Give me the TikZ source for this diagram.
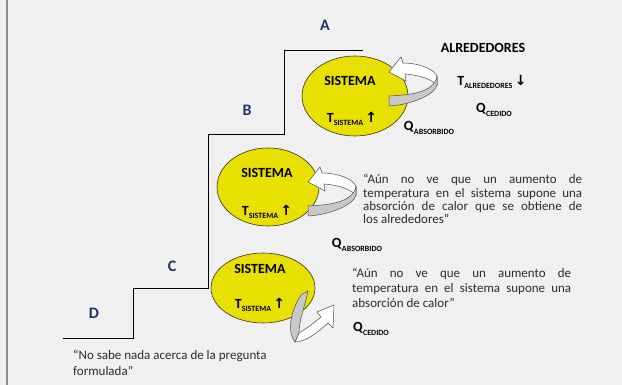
\documentclass[tikz,border=0pt]{standalone}
\usepackage{fontspec}
\setmainfont{Carlito}
\newfontfamily\arrowfont{DejaVu Sans}
\usetikzlibrary{shapes.geometric}

\definecolor{bgcol}{RGB}{240,240,240}
\definecolor{syellow}{RGB}{232,224,0}
\definecolor{letblue}{RGB}{35,50,100}
\definecolor{quotegray}{RGB}{45,45,45}
\definecolor{bandgray}{RGB}{200,200,200}

\newcommand{\sublbl}[2]{\textbf{#1}\raisebox{-0.5ex}{\fontsize{8}{8}\selectfont\textbf{#2}}}
\newcommand{\flecha}[1]{{\arrowfont\bfseries #1}}

\tikzset{
	sistema/.style={ellipse, draw=black!80, fill=syellow, line width=0.6pt},
	levellbl/.style={font=\fontsize{16}{16}\selectfont\bfseries, text=letblue, inner sep=0pt},
	lbl/.style={font=\fontsize{14}{14}\selectfont, inner sep=0pt},
	titlbl/.style={font=\fontsize{14}{14}\selectfont\bfseries, inner sep=0pt},
	quote/.style={font=\fontsize{13}{#1}\selectfont, text=quotegray, text width=219pt, align=justify, inner sep=0pt, anchor=base west},
	band/.style={fill=bandgray, draw=black!70, line width=0.5pt},
	ribbon/.style={fill=white, draw=black!70, line width=0.5pt},
	pics/giro/.style={code={
		\draw[ribbon] (48,-24) .. controls (46,-32) and (30,-38) .. (14,-38) -- (12,-44) -- (0,-29) -- (17,-20) -- (16,-27) .. controls (30,-26) and (42,-22) .. (48,-16) -- cycle;
		\draw[band] (0,-5) .. controls (20,-6) and (44,-8) .. (48,-24) -- (48,-16) .. controls (46,-6) and (21,4) .. (0,5) -- cycle;
	}}
}

\begin{document}
\begin{tikzpicture}[x=1pt, y=-1pt]
		\fill[bgcol] (0,0) rectangle (622,385);
		\useasboundingbox (0,0) rectangle (622,385);
		\draw[black!45, line width=1.5pt] (7,0) -- (7,385);
		
		% escalera de niveles
		\draw[line width=0.8pt] (63,338) -- (133,338) -- (133,288) -- (208,288) -- (208,134) -- (284,134) -- (284,50) -- (363,50);
		\node[levellbl] (A) at (325,25) {A};
		\node[levellbl] (B) at (247,110) {B};
		\node[levellbl] (C) at (172,266) {C};
		\node[levellbl] (D) at (94,313) {D};
		
		% nivel A
		\node[sistema, minimum width=106pt, minimum height=80pt] (SA) at (355,96) {};
		\pic at (389,101) {giro};
		\node[titlbl] (SAt) at (350,81) {SISTEMA};
		\node[lbl] (SAT) at (352,119) {\sublbl{T}{SISTEMA}\,\flecha{↑}};
		\node[titlbl] (alr) at (483,48) {ALREDEDORES};
		\node[lbl] (Talr) at (492,82) {\sublbl{T}{ALREDEDORES}\,\flecha{↓}};
		\node[lbl] (QcA) at (494,110) {\sublbl{Q}{CEDIDO}};
		\node[lbl] (QaA) at (429,128) {\sublbl{Q}{ABSORBIDO}};
		
		% nivel B
		\node[sistema, minimum width=102pt, minimum height=78pt] (SB) at (268,187) {};
		\pic at (308,211) {giro};
		\node[titlbl] (SBt) at (267,173) {SISTEMA};
		\node[lbl] (SBT) at (267,212) {\sublbl{T}{SISTEMA}\,\flecha{↑}};
		\node[quote=13.2] (citaB) at (363,184) {“Aún no ve que un aumento de\linebreak temperatura en el sistema supone una\linebreak absorción de calor que se obtiene de\linebreak los alrededores”};
		\node[lbl] (QaB) at (357,245) {\sublbl{Q}{ABSORBIDO}};
		
		% nivel C
		\node[sistema, minimum width=104pt, minimum height=70pt] (SC) at (263,288) {};
		\draw[ribbon] (299,333) .. controls (306,329) and (315,322) .. (321,317) -- (317,312) -- (334,305) -- (333,328) -- (328,323) .. controls (318,332) and (306,342) .. (295,342) -- cycle;
		\draw[band] (301,295) -- (308,291) .. controls (305,306) and (299,320) .. (299,333) -- (295,342) .. controls (287,332) and (290,312) .. (301,295) -- cycle;
		\node[titlbl] (SCt) at (260,269) {SISTEMA};
		\node[lbl] (SCT) at (260,305) {\sublbl{T}{SISTEMA}\,\flecha{↑}};
		\node[quote=15] (citaC) at (352,278) {“Aún no ve que un aumento de\linebreak temperatura en el sistema supone una\linebreak absorción de calor”};
		\node[lbl] (QcC) at (371,329) {\sublbl{Q}{CEDIDO}};
		
		% nivel D
		\node[font=\fontsize{13}{16}\selectfont, text=quotegray, align=left, inner sep=0pt, anchor=north west] (citaD) at (73,350) {“No sabe nada acerca de la pregunta\\formulada”};
\end{tikzpicture}
\end{document}
